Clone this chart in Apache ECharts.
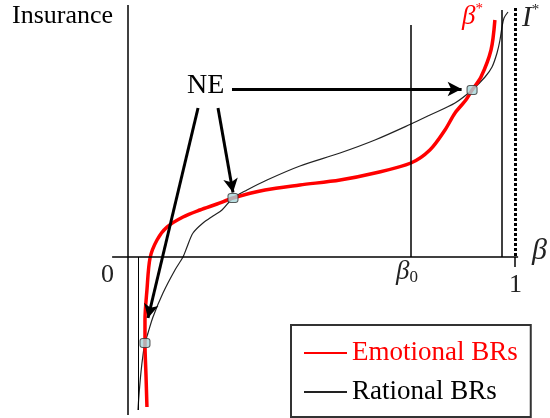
<!DOCTYPE html>
<html>
<head>
<meta charset="utf-8">
<script src="https://cdn.jsdelivr.net/npm/echarts@6/dist/echarts.min.js"></script>
<style>
html,body{margin:0;padding:0;background:#fff;}
#chart{width:550px;height:418px;}
</style>
</head>
<body>
<div id="chart"></div>
<script>
// ---- Data (β on x, insurance on y; schematic units) ----
const emotionalBeta = [0.049, 0.0465, 0.0439, 0.0439, 0.049, 0.057, 0.075, 0.1008, 0.1422, 0.186, 0.2300, 0.2713, 0.354, 0.444, 0.548, 0.638, 0.731, 0.780, 0.819, 0.845, 0.873, 0.889, 0.912, 0.938, 0.948];
const emotionalIns  = [-1.50, -1.18, -0.86, -0.63, -0.33, -0.01, 0.17, 0.30, 0.40, 0.47, 0.53, 0.59, 0.67, 0.72, 0.77, 0.84, 0.94, 1.07, 1.27, 1.44, 1.57, 1.67, 1.80, 2.07, 2.37];

const rationalBeta = [0.0258, 0.0284, 0.0336, 0.0388, 0.0439, 0.0517, 0.0646, 0.0904, 0.1214, 0.1421, 0.1525, 0.1680, 0.1938, 0.2196, 0.2429, 0.2713, 0.3075, 0.3592, 0.4444, 0.5478, 0.6382, 0.7313, 0.7804, 0.8450, 0.889, 0.9225, 0.9406, 0.9535, 0.9612, 0.9664, 0.9716, 0.9819];
const rationalIns  = [-1.53, -1.38, -1.15, -0.98, -0.86, -0.76, -0.60, -0.36, -0.13, 0.00, 0.10, 0.24, 0.34, 0.41, 0.47, 0.59, 0.67, 0.77, 0.91, 1.04, 1.17, 1.33, 1.42, 1.54, 1.67, 1.80, 1.90, 2.04, 2.17, 2.30, 2.39, 2.45];

// Nash equilibria
const neBeta = [0.0439, 0.2713, 0.889];
const neIns  = [-0.86, 0.59, 1.67];

// Reference values
const beta0 = 0.731;
const betaUpper = 0.966;   // rational asymptote near 1
const betaLower = 0.0258;  // rational asymptote near 0
const betaOne = 1;

const seriesNames = ['Emotional BRs', 'Rational BRs'];

// ---- Build chart ----
const chart = echarts.init(document.getElementById('chart'), null, {renderer: 'canvas'});
const zip = (a, b) => a.map((v, i) => [v, b[i]]);
const serif = 'Liberation Serif';

const solidLines = [
  [[0, 2.52], [0, -1.58]],                 // vertical axis
  [[-0.041, 0], [1.008, 0]],               // horizontal axis
  [[beta0, 2.32], [beta0, 0]],             // β0 line
  [[betaUpper, 2.47], [betaUpper, 0]],     // upper asymptote
  [[betaOne, 0], [betaOne, -0.1]]          // tick at 1
];
const thinLines = [
  [[betaLower, 0], [betaLower, -1.53]]     // lower asymptote
];
const arrows = [
  [[0.2687, 1.68], [0.862, 1.68]],
  [[0.2326, 1.49], [0.2713, 0.645]],
  [[0.181, 1.49], [0.0517, -0.61]]
];
const seg = (arr) => arr.map(p => [{coord: p[0]}, {coord: p[1]}]);

const txt = (left, top, text, size, color, italic) => ({
  type: 'text', left: left, top: top,
  style: italic
    ? {text: text, fontFamily: serif, fontSize: size, fontStyle: 'italic', fill: color}
    : {text: text, fontFamily: serif, fontSize: size, fill: color}
});
const richTxt = (left, top, base, sub, color, baseSize, subSize, subPad) => ({
  type: 'text', left: left, top: top,
  style: {
    text: '{b|' + base + '}{s|' + sub + '}',
    rich: {
      b: {fontFamily: serif, fontSize: baseSize, fontStyle: 'italic', fill: color},
      s: {fontFamily: serif, fontSize: subSize, fill: color, padding: subPad}
    }
  }
});

const option = {
  animation: false,
  backgroundColor: '#fff',
  textStyle: {fontFamily: serif},
  grid: {left: 0, right: 0, top: 0, bottom: 0},
  xAxis: {type: 'value', min: -0.3307, max: 1.0904, show: false},
  yAxis: {type: 'value', min: -1.61, max: 2.57, show: false},
  legend: {
    orient: 'vertical',
    left: 291, top: 325,
    data: [
      {name: seriesNames[0], textStyle: {color: '#ff0000'}},
      {name: seriesNames[1], textStyle: {color: '#000'}}
    ],
    itemWidth: 43, itemHeight: 14, itemGap: 11,
    itemStyle: {opacity: 0},
    padding: [14, 13, 11, 12],
    borderColor: '#333', borderWidth: 2,
    textStyle: {fontFamily: serif, fontSize: 27, lineHeight: 28},
    selectedMode: false
  },
  series: [
    {
      name: 'axes', type: 'line', data: [], silent: true,
      markLine: {
        silent: true, symbol: ['none', 'none'], label: {show: false},
        lineStyle: {color: '#000', width: 1.5, type: 'solid'},
        data: seg(solidLines)
      }
    },
    {
      name: 'thin', type: 'line', data: [], silent: true,
      markLine: {
        silent: true, symbol: ['none', 'none'], label: {show: false},
        lineStyle: {color: '#000', width: 1, type: 'solid'},
        data: seg(thinLines)
      }
    },
    {
      name: 'dotted', type: 'line', data: [], silent: true,
      markLine: {
        silent: true, symbol: ['none', 'none'], label: {show: false},
        lineStyle: {color: '#000', width: 3, type: [3, 2]},
        data: seg([[[betaOne, 2.49], [betaOne, 0]]])
      }
    },
    {
      name: seriesNames[1], type: 'line', data: zip(rationalBeta, rationalIns),
      symbol: 'none', smooth: 0.3, z: 3,
      lineStyle: {color: '#222', width: 1.2}, itemStyle: {color: '#222'}
    },
    {
      name: seriesNames[0], type: 'line', data: zip(emotionalBeta, emotionalIns),
      symbol: 'none', smooth: 0.3, z: 4,
      lineStyle: {color: '#ff0000', width: 3.5}, itemStyle: {color: '#ff0000'}
    },
    {
      name: 'arrows', type: 'line', data: [], silent: true, z: 5,
      markLine: {
        silent: true, symbol: ['none', 'arrow'], symbolSize: [11, 14], label: {show: false},
        lineStyle: {color: '#000', width: 3, type: 'solid'},
        data: seg(arrows)
      }
    },
    {
      name: 'NE', type: 'scatter', data: zip(neBeta, neIns), z: 6,
      symbol: 'roundRect', symbolSize: [10, 9],
      itemStyle: {color: '#a8d6da', borderColor: '#333', borderWidth: 1}
    }
  ],
  graphic: [
    txt(12, 3, 'Insurance', 26, '#000', false),
    txt(187, 72, 'NE', 28, '#000', false),
    txt(101, 262, '0', 26, '#222', false),
    txt(509, 272, '1', 26, '#222', false),
    txt(532, 236, 'β', 30, '#222', true),
    richTxt(396, 258, 'β', '0', '#222', 27, 17, [12, 0, 0, 0]),
    richTxt(462, 2, 'β', '*', '#ff0000', 27, 15, [0, 0, 14, 0]),
    richTxt(522, 3, 'I', '*', '#222', 29, 15, [0, 0, 15, 0])
  ]
};
chart.setOption(option);
</script>
</body>
</html>
